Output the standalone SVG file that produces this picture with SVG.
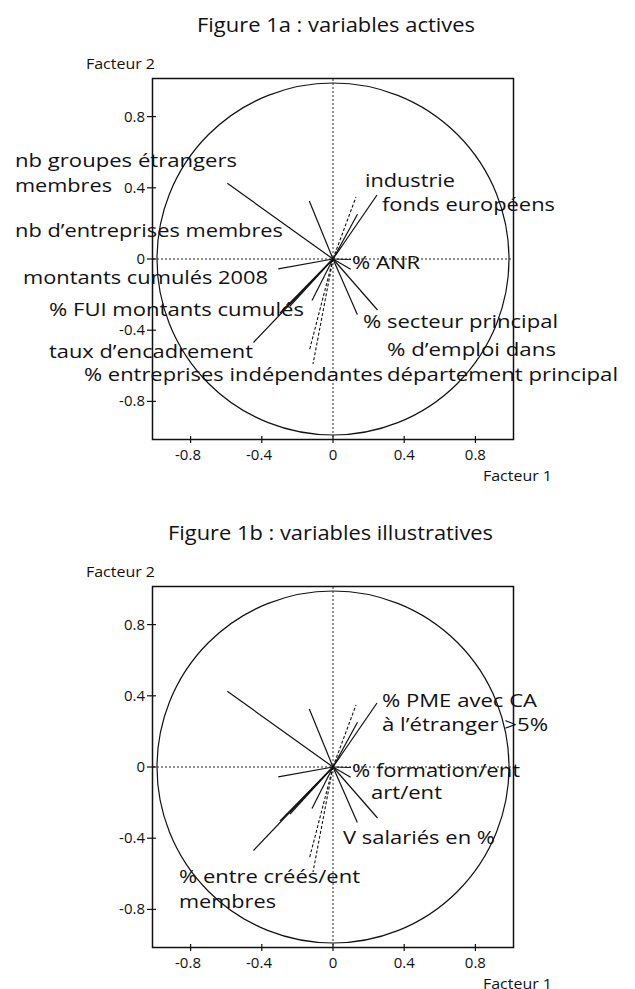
<svg xmlns="http://www.w3.org/2000/svg" xmlns:xlink="http://www.w3.org/1999/xlink" width="635" height="989" viewBox="0 0 635 989">
<style>
text{font-family:"Open Sans","Noto Sans","Liberation Sans",sans-serif;fill:#111}
.t{font-size:20px}
.lab{font-size:19px}
.tk{font-size:15px}
.ax{font-size:14px}
.frame{fill:none;stroke:#111;stroke-width:1.5}
.circ{fill:none;stroke:#111;stroke-width:1.2}
.dot{stroke:#222;stroke-width:1;stroke-dasharray:2 2;fill:none}
.v{stroke:#111;stroke-width:1.2;fill:none}
.vd{stroke:#111;stroke-width:1.1;stroke-dasharray:3 2;fill:none}
.tick{stroke:#111;stroke-width:1.2}
</style>
<defs>
<g id="plot">
<rect class="frame" x="152.5" y="78.5" width="361" height="361"/>
<circle class="circ" cx="333" cy="259" r="176"/>
<line class="dot" x1="333" y1="79" x2="333" y2="439"/>
<line class="dot" x1="153" y1="259" x2="513" y2="259"/>
<g class="tick">
<line x1="147" y1="116.6" x2="156" y2="116.6"/>
<line x1="147" y1="187.8" x2="156" y2="187.8"/>
<line x1="147" y1="259" x2="156" y2="259"/>
<line x1="147" y1="330.2" x2="156" y2="330.2"/>
<line x1="147" y1="401.4" x2="156" y2="401.4"/>
<line x1="190.6" y1="436" x2="190.6" y2="443"/>
<line x1="261.8" y1="436" x2="261.8" y2="443"/>
<line x1="333" y1="436" x2="333" y2="443"/>
<line x1="404.2" y1="436" x2="404.2" y2="443"/>
<line x1="475.4" y1="436" x2="475.4" y2="443"/>
</g>
<g class="tk">
<text x="145" y="121.6" text-anchor="end">0.8</text>
<text x="145" y="192.8" text-anchor="end">0.4</text>
<text x="145" y="264" text-anchor="end">0</text>
<text x="145" y="335.2" text-anchor="end">-0.4</text>
<text x="145" y="406.4" text-anchor="end">-0.8</text>
<text x="188" y="460" text-anchor="middle">-0.8</text>
<text x="259" y="460" text-anchor="middle">-0.4</text>
<text x="333" y="460" text-anchor="middle">0</text>
<text x="404.2" y="460" text-anchor="middle">0.4</text>
<text x="475.4" y="460" text-anchor="middle">0.8</text>
</g>
<text class="ax" x="86" y="69" textLength="69" lengthAdjust="spacingAndGlyphs">Facteur 2</text>
<text class="ax" x="483" y="481" textLength="69" lengthAdjust="spacingAndGlyphs">Facteur 1</text>
<g id="vectors">
<line class="v" x1="333" y1="259" x2="227.3" y2="183.3"/>
<line class="v" x1="333" y1="259" x2="309.3" y2="201"/>
<line class="vd" x1="333" y1="259" x2="356" y2="197"/>
<line class="v" x1="333" y1="259" x2="357.5" y2="214.3"/>
<line class="v" x1="333" y1="259" x2="377" y2="195"/>
<line class="v" x1="333" y1="259" x2="350.7" y2="269.3"/>
<line class="v" x1="333" y1="259" x2="351" y2="259.5"/>
<line class="v" x1="333" y1="259" x2="278.3" y2="268.8"/>
<line class="v" x1="333" y1="259" x2="253.5" y2="342.5"/>
<line class="v" x1="333" y1="259" x2="280" y2="313"/>
<line class="v" x1="333" y1="259" x2="290" y2="306"/>
<line class="v" x1="333" y1="259" x2="312" y2="300.5"/>
<line class="vd" x1="333" y1="259" x2="309.5" y2="350"/>
<line class="vd" x1="333" y1="259" x2="313" y2="364"/>
<line class="v" x1="333" y1="259" x2="357.3" y2="314.5"/>
<line class="v" x1="333" y1="259" x2="377.5" y2="310"/>
</g>
</g>
</defs>
<g id="figure-1a">
<text class="t" x="197" y="32" textLength="278" lengthAdjust="spacingAndGlyphs">Figure 1a : variables actives</text>
<use xlink:href="#plot" href="#plot"/>
<g class="lab">
<text x="15" y="167" textLength="222" lengthAdjust="spacingAndGlyphs">nb groupes étrangers</text>
<text x="15" y="192" textLength="97" lengthAdjust="spacingAndGlyphs">membres</text>
<text x="15" y="237" textLength="268" lengthAdjust="spacingAndGlyphs">nb d’entreprises membres</text>
<text x="23" y="284" textLength="245" lengthAdjust="spacingAndGlyphs">montants cumulés 2008</text>
<text x="49" y="316" textLength="255" lengthAdjust="spacingAndGlyphs">% FUI montants cumulés</text>
<text x="49" y="358" textLength="204" lengthAdjust="spacingAndGlyphs">taux d’encadrement</text>
<text x="84" y="381" textLength="299" lengthAdjust="spacingAndGlyphs">% entreprises indépendantes</text>
<text x="363" y="328" textLength="195" lengthAdjust="spacingAndGlyphs">% secteur principal</text>
<text x="387" y="356" textLength="169" lengthAdjust="spacingAndGlyphs">% d’emploi dans</text>
<text x="387" y="381" textLength="231" lengthAdjust="spacingAndGlyphs">département principal</text>
<text x="352" y="269" textLength="68" lengthAdjust="spacingAndGlyphs">% ANR</text>
<text x="365" y="187" textLength="90" lengthAdjust="spacingAndGlyphs">industrie</text>
<text x="382" y="211" textLength="173" lengthAdjust="spacingAndGlyphs">fonds européens</text>
</g>
</g>
<g id="figure-1b">
<text class="t" x="168" y="540" textLength="325" lengthAdjust="spacingAndGlyphs">Figure 1b : variables illustratives</text>
<use xlink:href="#plot" href="#plot" transform="translate(0,508)"/>
<g class="lab">
<text x="382" y="707" textLength="155" lengthAdjust="spacingAndGlyphs">% PME avec CA</text>
<text x="382" y="731" textLength="166" lengthAdjust="spacingAndGlyphs">à l’étranger &gt;5%</text>
<text x="352" y="777" textLength="168" lengthAdjust="spacingAndGlyphs">% formation/ent</text>
<text x="371" y="799" textLength="71" lengthAdjust="spacingAndGlyphs">art/ent</text>
<text x="343" y="844" textLength="152" lengthAdjust="spacingAndGlyphs">V salariés en %</text>
<text x="179" y="883" textLength="181" lengthAdjust="spacingAndGlyphs">% entre créés/ent</text>
<text x="179" y="908" textLength="97" lengthAdjust="spacingAndGlyphs">membres</text>
</g>
</g>
</svg>
